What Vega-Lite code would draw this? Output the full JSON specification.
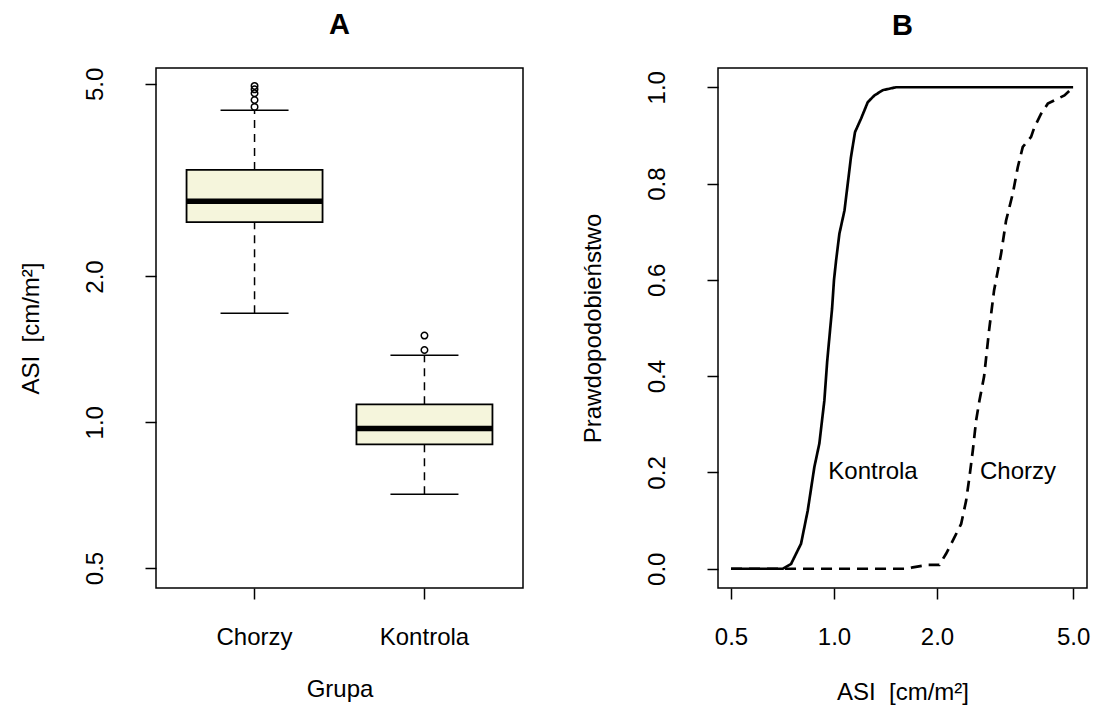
{
  "$schema": "https://vega.github.io/schema/vega-lite/v6.json",
  "padding": {"left": 18, "top": 10, "right": 5, "bottom": 0},
  "background": "white",
  "config": {
    "font": "Liberation Sans",
    "view": {"stroke": "black", "strokeWidth": 1.5},
    "axis": {
      "grid": false, "domain": false, "tickColor": "black", "tickWidth": 1.5, "tickSize": 11,
      "labelFontSize": 24, "labelColor": "black", "titleFontSize": 24, "titleColor": "black",
      "titleFontWeight": "normal", "labelFont": "Liberation Sans", "titleFont": "Liberation Sans"
    },
    "title": {"fontSize": 29, "fontWeight": "bold", "anchor": "middle", "color": "black", "font": "Liberation Sans", "baseline": "alphabetic", "offset": 27}
  },
  "datasets": {
    "box": [
      {"group": "Chorzy", "lower": 1.68, "q1": 2.59, "median": 2.86, "q3": 3.32, "upper": 4.41},
      {"group": "Kontrola", "lower": 0.71, "q1": 0.90, "median": 0.971, "q3": 1.089, "upper": 1.375}
    ],
    "outliers": [
      {"group": "Chorzy", "value": 4.48},
      {"group": "Chorzy", "value": 4.63},
      {"group": "Chorzy", "value": 4.78},
      {"group": "Chorzy", "value": 4.87},
      {"group": "Chorzy", "value": 4.95},
      {"group": "Kontrola", "value": 1.41},
      {"group": "Kontrola", "value": 1.51}
    ],
    "ecdf": [
      {"group": "Kontrola", "asi": 0.5, "p": 0},
      {"group": "Kontrola", "asi": 0.708, "p": 0},
      {"group": "Kontrola", "asi": 0.72, "p": 0.003},
      {"group": "Kontrola", "asi": 0.749, "p": 0.01},
      {"group": "Kontrola", "asi": 0.801, "p": 0.052},
      {"group": "Kontrola", "asi": 0.838, "p": 0.121},
      {"group": "Kontrola", "asi": 0.876, "p": 0.211},
      {"group": "Kontrola", "asi": 0.906, "p": 0.26},
      {"group": "Kontrola", "asi": 0.937, "p": 0.349},
      {"group": "Kontrola", "asi": 0.955, "p": 0.43},
      {"group": "Kontrola", "asi": 0.975, "p": 0.5},
      {"group": "Kontrola", "asi": 0.987, "p": 0.54},
      {"group": "Kontrola", "asi": 1.0, "p": 0.6},
      {"group": "Kontrola", "asi": 1.014, "p": 0.64},
      {"group": "Kontrola", "asi": 1.037, "p": 0.696},
      {"group": "Kontrola", "asi": 1.073, "p": 0.744},
      {"group": "Kontrola", "asi": 1.097, "p": 0.8},
      {"group": "Kontrola", "asi": 1.121, "p": 0.855},
      {"group": "Kontrola", "asi": 1.152, "p": 0.907},
      {"group": "Kontrola", "asi": 1.2, "p": 0.935},
      {"group": "Kontrola", "asi": 1.255, "p": 0.969},
      {"group": "Kontrola", "asi": 1.312, "p": 0.983},
      {"group": "Kontrola", "asi": 1.389, "p": 0.994},
      {"group": "Kontrola", "asi": 1.518, "p": 1.0},
      {"group": "Kontrola", "asi": 5.0, "p": 1.0},
      {"group": "Chorzy", "asi": 0.5, "p": 0},
      {"group": "Chorzy", "asi": 1.643, "p": 0},
      {"group": "Chorzy", "asi": 1.7, "p": 0.003},
      {"group": "Chorzy", "asi": 1.88, "p": 0.008},
      {"group": "Chorzy", "asi": 2.032, "p": 0.008},
      {"group": "Chorzy", "asi": 2.126, "p": 0.031},
      {"group": "Chorzy", "asi": 2.249, "p": 0.065},
      {"group": "Chorzy", "asi": 2.353, "p": 0.093},
      {"group": "Chorzy", "asi": 2.433, "p": 0.141},
      {"group": "Chorzy", "asi": 2.488, "p": 0.19},
      {"group": "Chorzy", "asi": 2.545, "p": 0.245},
      {"group": "Chorzy", "asi": 2.603, "p": 0.308},
      {"group": "Chorzy", "asi": 2.661, "p": 0.349},
      {"group": "Chorzy", "asi": 2.746, "p": 0.399},
      {"group": "Chorzy", "asi": 2.84, "p": 0.495},
      {"group": "Chorzy", "asi": 2.937, "p": 0.578},
      {"group": "Chorzy", "asi": 3.079, "p": 0.654},
      {"group": "Chorzy", "asi": 3.184, "p": 0.723},
      {"group": "Chorzy", "asi": 3.331, "p": 0.779},
      {"group": "Chorzy", "asi": 3.445, "p": 0.834},
      {"group": "Chorzy", "asi": 3.563, "p": 0.876},
      {"group": "Chorzy", "asi": 3.768, "p": 0.897},
      {"group": "Chorzy", "asi": 3.853, "p": 0.917},
      {"group": "Chorzy", "asi": 4.031, "p": 0.945},
      {"group": "Chorzy", "asi": 4.217, "p": 0.966},
      {"group": "Chorzy", "asi": 4.409, "p": 0.973},
      {"group": "Chorzy", "asi": 4.716, "p": 0.983},
      {"group": "Chorzy", "asi": 5.0, "p": 1.0}
    ],
    "labels": [
      {"label": "Kontrola", "asi": 1.3, "p": 0.2},
      {"label": "Chorzy", "asi": 3.45, "p": 0.2}
    ]
  },
  "spacing": 56,
  "hconcat": [
    {
      "width": 367,
      "height": 520,
      "title": {"text": "A"},
      "encoding": {
        "x": {
          "field": "group", "type": "nominal",
          "scale": {"type": "band", "domain": ["Chorzy", "Kontrola"], "paddingInner": 0, "paddingOuter": 0.08},
          "axis": {"title": "Grupa", "labelAngle": 0, "labelPadding": 26, "titlePadding": 28}
        }
      },
      "layer": [
        {
          "data": {"name": "box"},
          "mark": {"type": "rule", "color": "black", "strokeWidth": 1.5, "strokeDash": [8, 6]},
          "encoding": {
            "y": {
              "field": "lower", "type": "quantitative",
              "scale": {"type": "log", "domain": [0.4546, 5.39], "nice": false, "zero": false},
              "axis": {"title": "ASI\u00a0\u00a0[cm/m²]", "values": [0.5, 1, 2, 5], "format": ".1f", "labelAngle": 270, "labelAlign": "center", "labelBaseline": "bottom", "labelPadding": 38, "titlePadding": 40}
            },
            "y2": {"field": "q1"}
          }
        },
        {
          "data": {"name": "box"},
          "mark": {"type": "rule", "color": "black", "strokeWidth": 1.5, "strokeDash": [8, 6]},
          "encoding": {
            "y": {"field": "q3", "type": "quantitative"},
            "y2": {"field": "upper"}
          }
        },
        {
          "data": {"name": "box"},
          "mark": {"type": "tick", "orient": "horizontal", "color": "black", "size": 68, "thickness": 1.5, "opacity": 1},
          "encoding": {"y": {"field": "lower", "type": "quantitative"}}
        },
        {
          "data": {"name": "box"},
          "mark": {"type": "tick", "orient": "horizontal", "color": "black", "size": 68, "thickness": 1.5, "opacity": 1},
          "encoding": {"y": {"field": "upper", "type": "quantitative"}}
        },
        {
          "data": {"name": "box"},
          "mark": {"type": "bar", "fill": "#F5F5DC", "stroke": "black", "strokeWidth": 1.8, "size": 136, "opacity": 1},
          "encoding": {
            "y": {"field": "q1", "type": "quantitative"},
            "y2": {"field": "q3"}
          }
        },
        {
          "data": {"name": "box"},
          "mark": {"type": "tick", "orient": "horizontal", "color": "black", "size": 136, "thickness": 5.5, "opacity": 1},
          "encoding": {"y": {"field": "median", "type": "quantitative"}}
        },
        {
          "data": {"name": "outliers"},
          "mark": {"type": "point", "shape": "circle", "filled": false, "stroke": "black", "strokeWidth": 1.5, "size": 42, "opacity": 1},
          "encoding": {"y": {"field": "value", "type": "quantitative"}}
        }
      ]
    },
    {
      "width": 369,
      "height": 520,
      "title": {"text": "B"},
      "layer": [
        {
          "data": {"name": "ecdf"},
          "mark": {"type": "line", "color": "black", "strokeWidth": 2.7},
          "encoding": {
            "x": {
              "field": "asi", "type": "quantitative",
              "scale": {"type": "log", "domain": [0.458, 5.49], "nice": false, "zero": false},
              "axis": {"title": "ASI\u00a0\u00a0[cm/m²]", "values": [0.5, 1, 2, 5], "format": ".1f", "labelPadding": 26, "titlePadding": 31}
            },
            "y": {
              "field": "p", "type": "quantitative",
              "scale": {"domain": [-0.04, 1.04], "nice": false, "zero": false},
              "axis": {"title": "Prawdopodobieństwo", "values": [0, 0.2, 0.4, 0.6, 0.8, 1], "format": ".1f", "labelAngle": 270, "labelAlign": "center", "labelBaseline": "bottom", "labelPadding": 38, "titlePadding": 40}
            },
            "strokeDash": {
              "field": "group", "type": "nominal",
              "scale": {"domain": ["Kontrola", "Chorzy"], "range": [[1, 0], [11, 7]]},
              "legend": null
            },
            "order": {"field": "asi", "type": "quantitative"}
          }
        },
        {
          "data": {"name": "labels"},
          "mark": {"type": "text", "fontSize": 24, "color": "black", "align": "center", "baseline": "middle"},
          "encoding": {
            "x": {"field": "asi", "type": "quantitative"},
            "y": {"field": "p", "type": "quantitative"},
            "text": {"field": "label"}
          }
        }
      ]
    }
  ]
}
